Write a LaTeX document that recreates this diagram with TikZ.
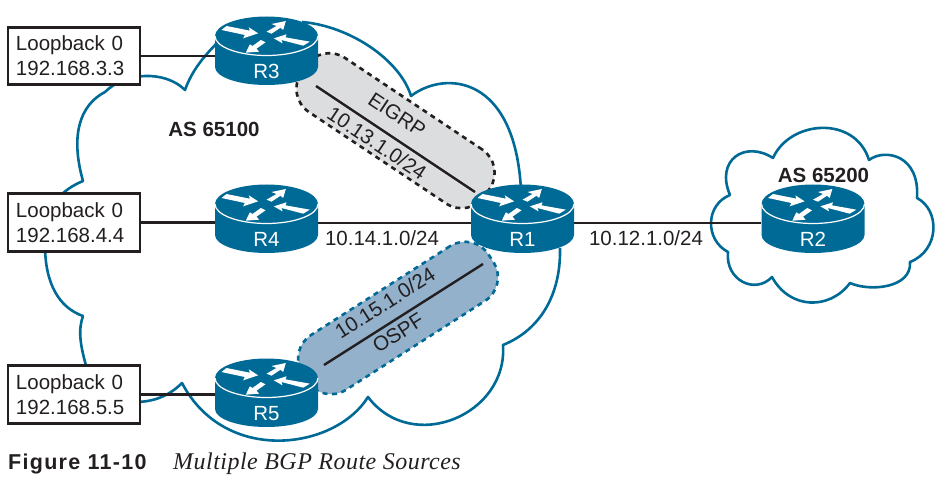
\documentclass[tikz,border=0pt]{standalone}
\usepackage{fontspec}
\setmainfont{Liberation Sans}
\newfontfamily\capserif[LetterSpace=2]{Liberation Serif}
\newfontfamily\capsans[LetterSpace=6]{Liberation Sans}
\usetikzlibrary{backgrounds}
\definecolor{cisco}{HTML}{006A96}
\definecolor{inkline}{HTML}{231F20}
\definecolor{eigrpfill}{HTML}{DCDDDE}
\definecolor{ospffill}{HTML}{93B1CB}
\tikzset{
  cloudline/.style={draw=cisco,line width=2.6pt,line join=round},
  link/.style={draw=inkline,line width=2.6pt},
  sublink/.style={draw=inkline,line width=2.4pt},
  lbox/.style={draw=inkline,line width=2.6pt,fill=white,minimum width=132pt,minimum height=57.5pt,inner xsep=8pt,inner ysep=0pt,
     text width=116pt,font=\fontsize{20.5pt}{25pt}\selectfont,align=left,text=inkline},
  label/.style={font=\fontsize{20.5pt}{25pt}\selectfont,text=inkline,inner sep=0pt},
  aslabel/.style={font=\fontsize{20.5pt}{25pt}\selectfont\bfseries,text=inkline,inner sep=0pt},
  blob/.style={line width=2.6pt,dash pattern=on 5pt off 4.5pt,rounded corners=28pt,minimum width=221pt,minimum height=65pt,inner sep=0pt},
  rnode/.style={minimum width=103pt,minimum height=68pt,inner sep=0pt},
}
\newcommand{\router}[3]{%
  \begin{scope}[shift={(#2,#3)}]
    \fill[cisco] (-51.5,-15) arc[x radius=51.5,y radius=-19.5,start angle=180,end angle=0]
       -- (51.5,16) arc[x radius=51.5,y radius=-18,start angle=0,end angle=-180] -- cycle;
    \draw[white,line width=1.2pt] (-51.5,-15) arc[x radius=51.5,y radius=-19.5,start angle=180,end angle=360];
    \begin{scope}[x=0.3333pt,y=-0.3333pt,shift={(-200,-153)}]
      \fill[white] (65,90)--(80,78)--(150,92)--(147,82)--(175,100)--(130,115)--(135,105)--cycle;
      \fill[white] (200,95)--(230,78)--(215,72)--(258,63)--(250,90)--(242,83)--(215,101)--cycle;
      \fill[white] (183,120)--(197,127)--(170,146)--(178,155)--(138,158)--(150,133)--(158,138)--cycle;
      \fill[white] (330,125)--(310,137)--(245,120)--(248,130)--(222,115)--(260,103)--(257,112)--cycle;
    \end{scope}
    \node[rnode] (#1) at (0,0) {};
    \node[text=white,inner sep=0pt,font=\fontsize{20.5pt}{25pt}\selectfont] (#1lab) at (0,20.5) {#1};
  \end{scope}}
\begin{document}
\begin{tikzpicture}[x=1pt,y=-1pt]
\useasboundingbox (0,0) rectangle (948,481);
% routers
\router{R3}{266.5}{51}
\router{R4}{266.5}{219}
\router{R1}{522.5}{219}
\router{R5}{266.5}{393}
\router{R2}{813}{219}
% loopback boxes
\node[lbox] (L3) at (74,56) {Loopback 0\\192.168.3.3};
\node[lbox] (L4) at (74,222.5) {Loopback 0\\192.168.4.4};
\node[lbox] (L5) at (74,394.5) {Loopback 0\\192.168.5.5};
% free ends of the two sub-links
\coordinate (e1) at (316,86);
\coordinate (e2) at (475,192);
\coordinate (o1) at (324,365);
\coordinate (o2) at (483,264);
\begin{pgfonlayer}{background}
  % AS 65100 cloud
  \draw[cloudline] (302,22) .. controls (350,26) and (400,60) .. (411,96)
     .. controls (445,70) and (515,75) .. (521,190);
  \draw[cloudline] (560,248) .. controls (561,295) and (540,330) .. (503,345)
     .. controls (508,415) and (412,455) .. (368,397)
     .. controls (335,450) and (225,465) .. (182,383)
     .. controls (170,395) and (155,402) .. (135,402);
  \draw[cloudline] (87,369) .. controls (80,345) and (78,330) .. (83,316)
     .. controls (60,308) and (45,285) .. (45,245);
  \draw[cloudline] (60,196) .. controls (68,188) and (76,184) .. (83,181)
     .. controls (70,135) and (80,105) .. (105,92)
     .. controls (125,72) and (165,70) .. (185,90)
     .. controls (192,70) and (205,55) .. (220,40);
  % AS 65200 cloud
  \draw[cloudline] (773,158) .. controls (790,120) and (855,115) .. (869,160)
     .. controls (885,148) and (920,155) .. (917,198)
     .. controls (940,210) and (940,250) .. (910,262)
     .. controls (912,288) and (870,292) .. (850,283)
     .. controls (830,310) and (790,310) .. (772,277)
     .. controls (755,295) and (725,280) .. (728,252)
     .. controls (705,240) and (705,205) .. (730,195)
     .. controls (715,160) and (745,140) .. cycle;
  % routing-protocol regions
  \node[blob,draw=inkline,fill=eigrpfill,rotate=-33.7] (eigrp) at (395.5,130.7) {};
  \node[blob,draw=cisco,fill=ospffill,rotate=32.6] (ospf) at (398,318) {};
  % links
  \draw[link] (L3.east) -- (L3.east -| R3.west);
  \draw[link] (L4.east) -- (L4.east -| R4.west);
  \draw[link] (L5.east) -- (L5.east -| R5.west);
  \draw[link] ([yshift=-4pt]R4.east) -- ([yshift=-4pt]R1.west);
  \draw[link] ([yshift=-4pt]R1.east) -- ([yshift=-4pt]R2.west);
  \draw[sublink] (e1) -- (e2);
  \draw[sublink] (o1) -- (o2);
\end{pgfonlayer}
% labels
\node[aslabel] (as1) at (214,129) {AS 65100};
\node[aslabel] (as2) at (823.5,175) {AS 65200};
\node[label] (n14) at (382,238) {10.14.1.0/24};
\node[label] (n12) at (646,238) {10.12.1.0/24};
\node[label,rotate=-33.7] (eig) at (397,115) {EIGRP};
\node[label,rotate=-33.7] (n13) at (377,143) {10.13.1.0/24};
\node[label,rotate=32.6] (n15) at (385,303) {10.15.1.0/24};
\node[label,rotate=32.6] (osp) at (398,333) {OSPF};
% caption
\node[anchor=base west,inner sep=0pt,text=inkline,font=\fontsize{21.5pt}{25pt}\capsans\bfseries] (figno) at (8,469) {Figure 11-10};
\node[anchor=base west,inner sep=0pt,text=inkline,font=\fontsize{24pt}{25pt}\capserif\itshape] (figcap) at (173,469) {Multiple BGP Route Sources};
\end{tikzpicture}
\end{document}
